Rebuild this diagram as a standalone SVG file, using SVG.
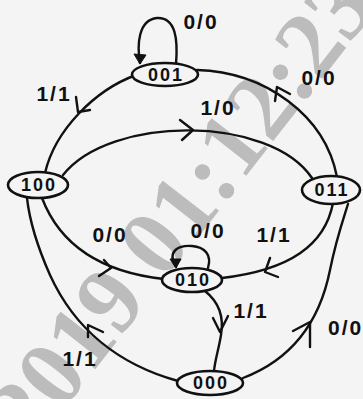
<svg xmlns="http://www.w3.org/2000/svg" width="363" height="399" viewBox="0 0 363 399">
<style>
.bg{fill:#f4f4f4}
.wm{font-family:"Liberation Serif",serif;font-weight:bold;font-size:95px;fill:#bcbcbc}
.node ellipse{fill:#f4f4f4;stroke:#111;stroke-width:2.6}
.node text{font-family:"Liberation Sans",sans-serif;font-size:18px;font-weight:bold;letter-spacing:2px;fill:#111;text-anchor:middle}
.edge{fill:none;stroke:#111;stroke-width:2.4;stroke-linecap:round;stroke-linejoin:round}
.head{fill:#111;stroke:#111;stroke-width:1}
.lbl{font-family:"Liberation Sans",sans-serif;font-size:21px;font-weight:bold;fill:#111;text-anchor:middle;letter-spacing:2px}
</style>
<rect class="bg" x="0" y="0" width="363" height="399"/>
<text class="wm" transform="translate(32,450) rotate(-52)">2019 01:12:23</text>
<g id="connectors">
<path class="edge" d="M136,75 C95,90 55,130 45,173"/>
<path class="edge" d="M76,97 L78,112 L90,110"/>
<path class="edge" d="M197,70 C265,72 325,115 337,177"/>
<path class="edge" d="M275,101 L277,87 L290,94"/>
<path class="edge" d="M63,175 C110,115 270,115 312,178"/>
<path class="edge" d="M180,120 L193,130 L182,140"/>
<path class="edge" d="M140,63 C137,45 138,20 157,18 C176,17 178,40 176,64"/>
<polygon class="head" points="134,54 146,55 140,64"/>
<path class="edge" d="M42,198 C60,245 100,272 164,279"/>
<path class="edge" d="M104,260 L111,268 L99,276"/>
<path class="edge" d="M333,203 C325,245 290,270 222,278"/>
<path class="edge" d="M270,258 L265,272 L278,277"/>
<path class="edge" d="M176,267 C166,250 180,245 192,246 C205,247 212,255 208,268"/>
<polygon class="head" points="170,259 181,259 176,268"/>
<path class="edge" d="M205,291 C220,303 224,318 221,335 C219,348 215,360 214,371"/>
<path class="edge" d="M213,318 L220,332 L228,316"/>
<path class="edge" d="M178,381 C120,365 75,330 50,275 C38,248 30,225 27,198"/>
<path class="edge" d="M103,332 L88,325 L88,337"/>
<path class="edge" d="M243,378 C285,362 318,330 330,270 C336,240 343,220 348,204"/>
<path class="edge" d="M293,331 L310,322 L310,347"/>
<text class="lbl" x="201" y="29">0/0</text>
<text class="lbl" x="54" y="101">1/1</text>
<text class="lbl" x="319" y="85">0/0</text>
<text class="lbl" x="218" y="115">1/0</text>
<text class="lbl" x="110" y="242">0/0</text>
<text class="lbl" x="208" y="238">0/0</text>
<text class="lbl" x="274" y="242">1/1</text>
<text class="lbl" x="251" y="318">1/1</text>
<text class="lbl" x="80" y="366">1/1</text>
<text class="lbl" x="328" y="335" style="text-anchor:start">0/0</text>
</g>
<g id="node-001" class="node"><ellipse cx="165" cy="74.5" rx="33" ry="11.5"/><text x="166" y="81">001</text></g>
<g id="node-100" class="node"><ellipse cx="38" cy="185" rx="30" ry="13"/><text x="39" y="191">100</text></g>
<g id="node-011" class="node"><ellipse cx="331" cy="190" rx="29" ry="14"/><text x="332" y="196">011</text></g>
<g id="node-010" class="node"><ellipse cx="192" cy="280" rx="30" ry="12"/><text x="193" y="286">010</text></g>
<g id="node-000" class="node"><ellipse cx="210" cy="383" rx="33" ry="12"/><text x="211" y="389">000</text></g>
</svg>
